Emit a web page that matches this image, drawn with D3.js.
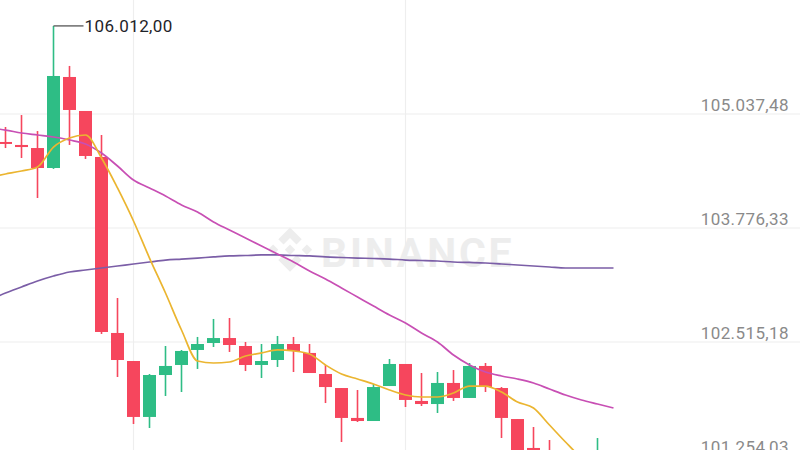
<!DOCTYPE html>
<html>
<head>
<meta charset="utf-8">
<script src="https://cdn.jsdelivr.net/npm/d3@7"></script>
<style>
  html, body { margin: 0; padding: 0; background: #ffffff; }
  svg { display: block; }
</style>
</head>
<body>
<svg id="chart" width="800" height="450"></svg>
<script>
// ---- data ----
const opens  = [104728,104695,104661,104440,105447,105071,104562,102615,102305,101686,102150,102261,102427,102504,102559,102471,102261,102316,102493,102394,102161,102006,101675,101641,102028,102272,101863,101829,102062,101896,102250,102006,101663,101343,101265,101250,101150,101043,101050];
const highs  = [104894,105026,104849,106012,105569,105071,104805,103002,102305,102161,102471,102427,102571,102770,102781,102515,102493,102582,102571,102493,102261,102006,101984,102051,102327,102272,102172,102183,102205,102283,102283,102017,101663,101575,101431,101270,101250,101453,101150];
const lows   = [104661,104551,104108,104430,104695,104540,102604,102128,101608,101564,101918,101962,102217,102460,102405,102194,102117,102239,102183,102172,101840,101409,101630,101641,102028,101796,101807,101730,101863,101896,101962,101453,101155,100933,100877,101050,100950,101000,100900];
const closes = [104706,104672,104440,105458,105082,104573,102626,102316,101686,102150,102250,102416,102493,102559,102482,102261,102305,102493,102416,102172,102017,101675,101641,102017,102272,101874,101829,102062,101896,102250,102017,101675,101210,101099,101043,101150,101000,101265,100950];

// moving averages, starting one candle before the first visible candle
const maStart = -1;
const ma7  = [104340,104374,104407,104451,104672,104772,104805,104551,104219,103854,103444,103057,102648,102305,102283,102294,102360,102394,102427,102416,102382,102261,102161,102106,102051,101984,101929,101907,101907,101951,102028,102028,101962,101851,101785,101597,101409,101232,101099,100989];
const ma25 = [104883,104860,104827,104805,104783,104750,104706,104606,104462,104307,104219,104130,104031,103953,103843,103754,103666,103577,103489,103400,103301,103212,103113,103013,102913,102814,102725,102615,102515,102371,102261,102183,102139,102106,102062,101995,101929,101874,101829,101785];
const ma99 = [102980,103057,103124,103190,103245,103290,103312,103334,103356,103378,103400,103422,103433,103444,103456,103467,103472,103478,103478,103472,103467,103456,103450,103444,103439,103433,103422,103417,103411,103400,103395,103389,103378,103367,103356,103345,103334,103334,103334,103334];

const priceTicks = [105037.48, 103776.33, 102515.18, 101254.03];
const gridCandles = [8, 25];
const highIndex = 3;
const highValue = 106012.00;

// ---- setup ----
const W = 800, H = 450;
const svg = d3.select("#chart");
const fmt = d3.formatLocale({decimal: ",", thousands: ".", grouping: [3], currency: ["", ""]}).format(",.2f");

const x = d3.scaleLinear().domain([0, opens.length - 1]).range([5.5, 613.5]);
const y = d3.scaleLinear().domain([101254.03, 105037.48]).range([456, 114]);

const GREEN = "#2ebd85", RED = "#f6465d";

// grid
svg.append("g").selectAll("line.h").data(priceTicks).join("line")
  .attr("x1", 0).attr("x2", W)
  .attr("y1", d => y(d)).attr("y2", d => y(d))
  .attr("stroke", "#eeeeee").attr("stroke-width", 1.2);
svg.append("g").selectAll("line.v").data(gridCandles).join("line")
  .attr("x1", d => x(d)).attr("x2", d => x(d))
  .attr("y1", 0).attr("y2", H)
  .attr("stroke", "#eeeeee").attr("stroke-width", 1.2);

// watermark
const wm = svg.append("g").attr("fill", "#ededed");
const logo = wm.append("g").attr("transform", "translate(290,251) scale(1.3)");
logo.append("path")
  .attr("d", `M0,-18 L9,-9 L5,-5 L0,-10 L-5,-5 L-9,-9 Z
              M-13,-5 L-9,-1 L-13,3 L-17,-1 Z
              M13,-5 L17,-1 L13,3 L9,-1 Z
              M0,-5 L4,-1 L0,3 L-4,-1 Z
              M0,16 L9,7 L5,3 L0,8 L-5,3 L-9,7 Z`);
wm.append("text")
  .attr("x", 321).attr("y", 267)
  .attr("font-family", "Roboto, 'DejaVu Sans', sans-serif")
  .attr("font-size", 41).attr("font-weight", 700)
  .attr("letter-spacing", 2.8)
  .text("BINANCE");

// candles
const idx = d3.range(opens.length);
const cg = svg.append("g");
cg.selectAll("line.wick").data(idx).join("line")
  .attr("x1", i => x(i)).attr("x2", i => x(i))
  .attr("y1", i => y(highs[i])).attr("y2", i => y(lows[i]))
  .attr("stroke", i => closes[i] >= opens[i] ? GREEN : RED)
  .attr("stroke-width", 1.6);
cg.selectAll("rect.body").data(idx).join("rect")
  .attr("x", i => x(i) - 6.5).attr("width", 13)
  .attr("y", i => y(Math.max(opens[i], closes[i])))
  .attr("height", i => Math.max(1.6, Math.abs(y(opens[i]) - y(closes[i]))))
  .attr("fill", i => closes[i] >= opens[i] ? GREEN : RED);

// moving averages
const line = d3.line().x(d => x(d[0])).y(d => y(d[1])).curve(d3.curveMonotoneX);
[[ma99, "#7b5ea7"], [ma25, "#c84fb4"], [ma7, "#ebb530"]].forEach(([arr, col]) => {
  svg.append("path")
    .datum(arr.map((v, k) => [k + maStart, v]))
    .attr("d", line)
    .attr("fill", "none").attr("stroke", col).attr("stroke-width", 1.7)
    .attr("stroke-linejoin", "round");
});

// high marker
svg.append("line")
  .attr("x1", x(highIndex)).attr("x2", x(highIndex) + 30)
  .attr("y1", y(highValue)).attr("y2", y(highValue))
  .attr("stroke", "#555").attr("stroke-width", 1.3);
svg.append("text")
  .attr("x", x(highIndex) + 31).attr("y", y(highValue) + 6.5)
  .attr("font-family", "Roboto, sans-serif").attr("font-size", 17)
  .attr("fill", "#1e2329").attr("letter-spacing", 0.4)
  .text(fmt(highValue));

// price labels (right axis)
const axis = d3.axisLeft(y).tickValues(priceTicks).tickFormat(fmt).tickSize(0).tickPadding(0);
const ag = svg.append("g").attr("transform", `translate(789,0)`).call(axis);
ag.select(".domain").remove();
ag.selectAll("text")
  .attr("font-family", "Roboto, sans-serif").attr("font-size", 17)
  .attr("fill", "#8a8a8a").attr("letter-spacing", 0.4)
  .attr("dy", "-4");
</script>
</body>
</html>
